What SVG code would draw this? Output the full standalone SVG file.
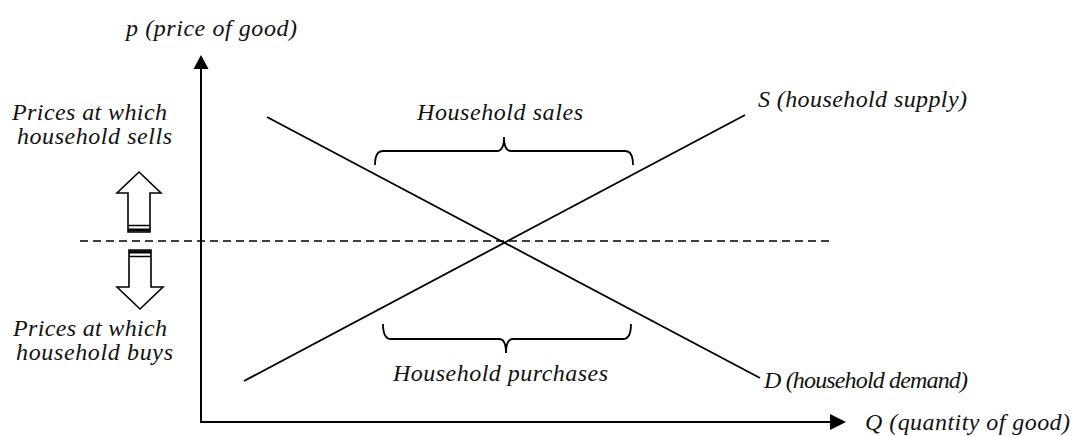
<svg xmlns="http://www.w3.org/2000/svg" width="1075" height="436" viewBox="0 0 1075 436">
<defs>
<style>
.t{font-family:'Liberation Serif','Times New Roman',serif;font-style:italic;font-size:24px;fill:#111}
.ln{stroke:#000;stroke-width:1.8;fill:none}
.ax{stroke:#000;stroke-width:2;fill:none}
.blk{stroke:#000;stroke-width:1.6;fill:#fff;stroke-linejoin:miter}
</style>
</defs>
<rect width="1075" height="436" fill="#fff"/>
<g id="connectors">
<line class="ax" x1="201" y1="423" x2="201" y2="66"/>
<polygon points="201,55 193.5,69 208.5,69" fill="#000"/>
<line class="ax" x1="200" y1="422" x2="832" y2="422"/>
<polygon points="846,422 830,414 830,430" fill="#000"/>
<line x1="80" y1="241" x2="834" y2="241" stroke="#000" stroke-width="1.5" stroke-dasharray="8,5"/>
</g>
<g id="demand"><line class="ln" x1="267" y1="117" x2="760" y2="378"/></g>
<g id="supply"><line class="ln" x1="244" y1="381" x2="745" y2="115"/></g>
<g id="brace-sales"><path class="ln" d="M375,165 Q375,151 383,151 L497,151 Q504,151 504,137 Q504,151 511,151 L625,151 Q633,151 633,165"/></g>
<g id="brace-purchases"><path class="ln" d="M383,324 Q383,339 391,339 L499,339 Q506,339 506,353 Q506,339 513,339 L623,339 Q631,339 631,324"/></g>
<g id="up-arrow">
<polygon class="blk" points="139,172 161,193 150,193 150,232 128,232 128,193 117,193"/>
<line x1="128" y1="225.5" x2="150" y2="225.5" stroke="#000" stroke-width="1.5"/>
<line x1="128" y1="230" x2="150" y2="230" stroke="#000" stroke-width="3"/>
</g>
<g id="down-arrow">
<polygon class="blk" points="140,309 163,287 151,287 151,250 129,250 129,287 117,287"/>
<line x1="129" y1="252" x2="151" y2="252" stroke="#000" stroke-width="3"/>
<line x1="129" y1="256.5" x2="151" y2="256.5" stroke="#000" stroke-width="1.5"/>
</g>
<g id="labels">
<text class="t" x="126" y="36" textLength="171" lengthAdjust="spacing">p (price of good)</text>
<text class="t" x="12" y="120" textLength="155" lengthAdjust="spacing">Prices at which</text>
<text class="t" x="17" y="144" textLength="155" lengthAdjust="spacing">household sells</text>
<text class="t" x="417" y="120" textLength="166" lengthAdjust="spacing">Household sales</text>
<text class="t" x="758" y="107" textLength="209" lengthAdjust="spacing">S (household supply)</text>
<text class="t" x="13" y="336" textLength="154" lengthAdjust="spacing">Prices at which</text>
<text class="t" x="16" y="360" textLength="157" lengthAdjust="spacing">household buys</text>
<text class="t" x="393" y="381" textLength="215" lengthAdjust="spacing">Household purchases</text>
<text class="t" x="764" y="388" textLength="204" lengthAdjust="spacing">D (household demand)</text>
<text class="t" x="865" y="430" textLength="205" lengthAdjust="spacing">Q (quantity of good)</text>
</g>
</svg>
